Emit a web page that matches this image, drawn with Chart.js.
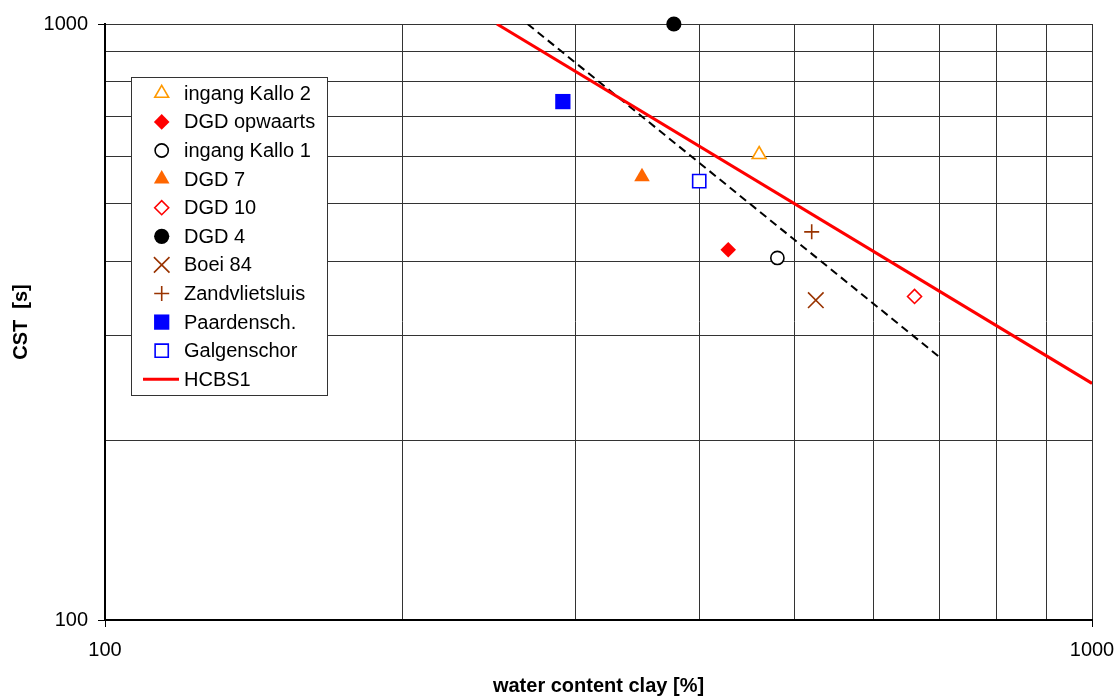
<!DOCTYPE html>
<html>
<head>
<meta charset="utf-8">
<script src="https://cdn.jsdelivr.net/npm/chart.js@4/dist/chart.umd.min.js"></script>
<style>
  html, body { margin: 0; padding: 0; background: #fff; }
  #wrap { width: 1117px; height: 699px; position: relative; }
</style>
</head>
<body>
<div id="wrap"><canvas id="cstChart"></canvas></div>
<script>
// Données
const seriesNames = ['ingang Kallo 2', 'DGD opwaarts', 'ingang Kallo 1', 'DGD 7', 'DGD 10',
                     'DGD 4', 'Boei 84', 'Zandvlietsluis', 'Paardensch.', 'Galgenschor'];
const waterContent = [460, 428, 480, 350, 661, 377, 525, 520, 291, 400];
const cstValues = [604, 418, 405, 554, 349, 1000, 344, 448, 741, 545];

// Droite HCBS1 et droite en pointillés
const hcbsX = [249.5, 1000];
const hcbsY = [1000, 249.5];
const trendX = [268, 699];
const trendY = [1000, 277];

// Graduations
const gridTicks = [100, 200, 300, 400, 500, 600, 700, 800, 900, 1000];
const labelTicks = [100, 1000];

// Styles des marqueurs (même ordre que seriesNames)
const markerStyles = [
    { style: 'triangle', radius: 8,   fill: '#ffffff', stroke: '#FF9900', width: 1.6 },
    { style: 'rectRot',  radius: 7.8, fill: '#FF0000', stroke: '#FF0000', width: 0 },
    { style: 'circle',   radius: 6.6, fill: '#ffffff', stroke: '#000000', width: 1.6 },
    { style: 'triangle', radius: 9,   fill: '#FF6600', stroke: '#FF6600', width: 0 },
    { style: 'rectRot',  radius: 7,   fill: '#ffffff', stroke: '#FF0000', width: 1.6 },
    { style: 'circle',   radius: 7.6, fill: '#000000', stroke: '#000000', width: 0 },
    { style: 'crossRot', radius: 11,  fill: '#993300', stroke: '#993300', width: 1.6 },
    { style: 'cross',    radius: 7.5, fill: '#993300', stroke: '#993300', width: 1.6 },
    { style: 'rect',     radius: 10.8, fill: '#0000FF', stroke: '#0000FF', width: 0 },
    { style: 'rect',     radius: 9.3, fill: '#ffffff', stroke: '#0000FF', width: 1.6 }
];

const FONT = 'Liberation Sans, Arial, sans-serif';

const datasets = seriesNames.map((name, i) => ({
    label: name,
    data: [{ x: waterContent[i], y: cstValues[i] }],
    showLine: false,
    pointStyle: markerStyles[i].style,
    pointRadius: markerStyles[i].radius,
    pointHoverRadius: markerStyles[i].radius,
    pointBackgroundColor: markerStyles[i].fill,
    pointBorderColor: markerStyles[i].stroke,
    pointBorderWidth: markerStyles[i].width,
    clip: false
}));

datasets.unshift({
    label: 'trend',
    data: trendX.map((x, i) => ({ x: x, y: trendY[i] })),
    showLine: true,
    borderColor: '#000000',
    borderWidth: 2,
    borderDash: [8, 5],
    pointRadius: 0,
    fill: false
});

datasets.unshift({
    label: 'HCBS1',
    data: hcbsX.map((x, i) => ({ x: x, y: hcbsY[i] })),
    showLine: true,
    borderColor: '#FF0000',
    borderWidth: 3,
    pointRadius: 0,
    fill: false
});

// Légende dessinée à l'intérieur de la zone du graphique
const insideLegend = {
    id: 'insideLegend',
    afterDraw(chart) {
        const ctx = chart.ctx;
        const box = { left: 131, top: 77, right: 327, bottom: 395 };
        const rowTop = 93.3;
        const rowStep = 28.6;
        const markerX = 161.7;
        const textX = 184;

        ctx.save();
        ctx.fillStyle = '#ffffff';
        ctx.fillRect(box.left, box.top, box.right - box.left, box.bottom - box.top);
        ctx.strokeStyle = '#333333';
        ctx.lineWidth = 1;
        ctx.strokeRect(box.left + 0.5, box.top + 0.5, box.right - box.left, box.bottom - box.top);

        ctx.font = '20px ' + FONT;
        ctx.textBaseline = 'middle';
        ctx.textAlign = 'left';

        seriesNames.forEach((name, i) => {
            const y = rowTop + i * rowStep;
            const m = markerStyles[i];
            ctx.fillStyle = m.fill;
            ctx.strokeStyle = m.stroke;
            ctx.lineWidth = m.width;
            Chart.helpers.drawPoint(ctx, {
                pointStyle: m.style,
                radius: m.radius,
                rotation: 0,
                borderWidth: m.width
            }, markerX, y);
            ctx.fillStyle = '#000000';
            ctx.fillText(name, textX, y + 1);
        });

        const yLine = rowTop + seriesNames.length * rowStep;
        ctx.strokeStyle = '#FF0000';
        ctx.lineWidth = 3;
        ctx.beginPath();
        ctx.moveTo(143, yLine);
        ctx.lineTo(179, yLine);
        ctx.stroke();
        ctx.fillStyle = '#000000';
        ctx.fillText('HCBS1', textX, yLine + 1);
        ctx.restore();
    }
};

function tickLabel(value) {
    return labelTicks.includes(value) ? String(value) : '';
}

function tickMarkColor(context) {
    return context.tick && labelTicks.includes(context.tick.value) ? '#000000' : 'rgba(0,0,0,0)';
}

const ctx = document.getElementById('cstChart').getContext('2d');
new Chart(ctx, {
    type: 'scatter',
    data: { datasets: datasets },
    options: {
        responsive: true,
        maintainAspectRatio: false,
        animation: false,
        layout: { padding: { top: 24, right: 25, left: 0, bottom: 0 } },
        plugins: {
            legend: { display: false },
            tooltip: { enabled: false }
        },
        scales: {
            x: {
                type: 'logarithmic',
                min: 100,
                max: 1000,
                afterBuildTicks: scale => { scale.ticks = gridTicks.map(v => ({ value: v })); },
                afterFit: scale => {
                    scale.height = 79;
                    scale.paddingLeft = 0;
                    scale.paddingRight = 0;
                },
                ticks: {
                    callback: tickLabel,
                    autoSkip: false,
                    maxRotation: 0,
                    padding: 11,
                    color: '#000000',
                    font: { family: FONT, size: 20 }
                },
                grid: {
                    color: '#333333',
                    lineWidth: 1,
                    tickLength: 7,
                    tickColor: tickMarkColor
                },
                border: { color: '#000000', width: 2 },
                title: {
                    display: true,
                    text: 'water content clay [%]',
                    color: '#000000',
                    font: { family: FONT, size: 20, weight: 'bold' },
                    padding: { top: 0, bottom: 1 }
                }
            },
            y: {
                type: 'logarithmic',
                min: 100,
                max: 1000,
                afterBuildTicks: scale => { scale.ticks = gridTicks.map(v => ({ value: v })); },
                afterFit: scale => {
                    scale.width = 105;
                    scale.paddingTop = 0;
                    scale.paddingBottom = 0;
                },
                ticks: {
                    callback: tickLabel,
                    autoSkip: false,
                    padding: 10,
                    color: '#000000',
                    font: { family: FONT, size: 20 }
                },
                grid: {
                    color: '#333333',
                    lineWidth: 1,
                    tickLength: 7,
                    tickColor: tickMarkColor
                },
                border: { color: '#000000', width: 2 },
                title: {
                    display: true,
                    text: 'CST  [s]',
                    color: '#000000',
                    font: { family: FONT, size: 20, weight: 'bold' },
                    padding: { top: 9, bottom: 0 }
                }
            }
        }
    },
    plugins: [insideLegend]
});
</script>
</body>
</html>
